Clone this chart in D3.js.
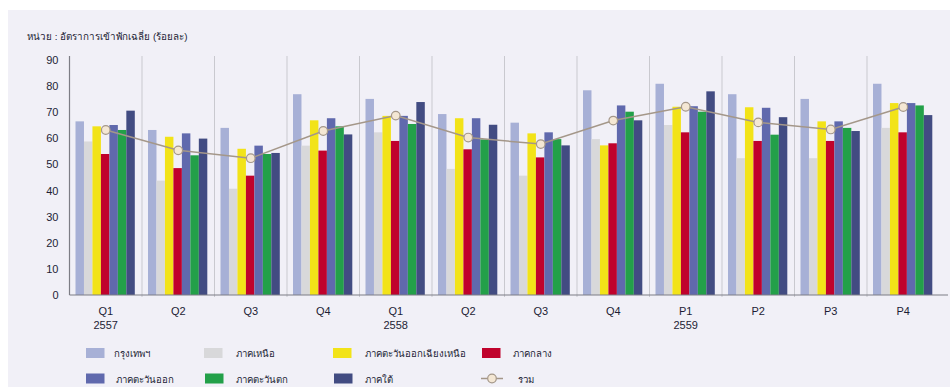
<!DOCTYPE html>
<html>
<head>
<meta charset="utf-8">
<script src="https://cdn.jsdelivr.net/npm/d3@7/dist/d3.min.js"></script>
<style>
  html, body { margin: 0; padding: 0; background: #ffffff; }
  svg { display: block; }
  text { font-family: "Liberation Sans", "DejaVu Sans", "Noto Sans", sans-serif; }
</style>
</head>
<body>
<svg id="chart" width="950" height="387"></svg>
<script>
// Quarter / period labels along the x axis, with the year shown under the first of each year
const periods = ["Q1", "Q2", "Q3", "Q4", "Q1", "Q2", "Q3", "Q4", "P1", "P2", "P3", "P4"];
const years = ["2557", "", "", "", "2558", "", "", "", "2559", "", "", ""];

// Average hotel occupancy rate by region (percent)
const seriesNames = ["กรุงเทพฯ", "ภาคเหนือ", "ภาคตะวันออกเฉียงเหนือ", "ภาคกลาง", "ภาคตะวันออก", "ภาคตะวันตก", "ภาคใต้"];
const seriesColors = ["#a7b0d6", "#d8d8da", "#f2e318", "#c0022c", "#6069ad", "#23a049", "#424c82"];

const bangkok   = [66.5, 63.2, 64.0, 76.9, 75.1, 69.3, 66.0, 78.4, 80.9, 76.9, 75.1, 80.9];
const north     = [58.8, 43.8, 40.7, 57.2, 62.3, 48.3, 45.7, 59.7, 65.1, 52.4, 52.4, 64.0];
const northeast = [64.6, 60.6, 56.0, 66.9, 68.6, 67.7, 61.9, 57.3, 72.1, 71.9, 66.5, 73.5];
const central   = [54.0, 48.6, 45.7, 55.3, 59.0, 55.8, 52.7, 58.1, 62.3, 59.0, 59.0, 62.3];
const east      = [65.1, 61.9, 57.2, 67.7, 68.6, 67.7, 62.3, 72.6, 72.3, 71.7, 66.5, 73.5];
const west      = [63.2, 53.5, 54.0, 64.6, 65.5, 59.6, 59.7, 70.2, 70.2, 61.4, 64.0, 72.6];
const south     = [70.6, 59.9, 54.4, 61.5, 73.9, 65.2, 57.3, 66.9, 78.0, 68.1, 62.8, 68.9];
const total     = [63.2, 55.4, 52.4, 62.8, 68.7, 60.3, 57.8, 66.8, 72.1, 66.1, 63.4, 72.0];

const yTicks = [0, 10, 20, 30, 40, 50, 60, 70, 80, 90];

const seriesValues = [bangkok, north, northeast, central, east, west, south];

const svg = d3.select("#chart");

// Light panel behind the whole figure
svg.append("rect")
  .attr("x", 8).attr("y", 10).attr("width", 942).attr("height", 377)
  .attr("fill", "#f1f0f7");

const plotLeft = 69.5, plotRight = 939.5, plotTop = 60, plotBottom = 295;

const x0 = d3.scaleBand()
  .domain(d3.range(periods.length))
  .range([plotLeft, plotRight])
  .paddingInner(0).paddingOuter(0);

const x1 = d3.scaleBand()
  .domain(d3.range(seriesNames.length))
  .range([6, 65.3])
  .padding(0);

const y = d3.scaleLinear().domain([0, 90]).range([plotBottom, plotTop]);

// Title / unit
svg.append("text")
  .attr("x", 27).attr("y", 40)
  .attr("font-size", 9.8).attr("fill", "#1d1d35")
  .text("หน่วย : อัตราการเข้าพักเฉลี่ย (ร้อยละ)");

// Group separators
svg.append("g").selectAll("line")
  .data(d3.range(1, periods.length))
  .join("line")
  .attr("x1", d => x0(d)).attr("x2", d => x0(d))
  .attr("y1", 56).attr("y2", plotBottom + 2)
  .attr("stroke", "#c9c9cf").attr("stroke-width", 1);

// Bars
const groups = svg.append("g").selectAll("g")
  .data(d3.range(periods.length))
  .join("g")
  .attr("transform", i => `translate(${x0(i)},0)`);

groups.selectAll("rect")
  .data(i => seriesValues.map((vals, s) => ({ s, v: vals[i] })))
  .join("rect")
  .attr("x", d => x1(d.s))
  .attr("width", x1.bandwidth())
  .attr("y", d => y(d.v))
  .attr("height", d => y(0) - y(d.v))
  .attr("fill", d => seriesColors[d.s]);

// Y axis
const yAxis = d3.axisLeft(y).tickValues(yTicks).tickSize(0).tickPadding(11);
const gy = svg.append("g").attr("transform", `translate(${plotLeft},0)`).call(yAxis);
gy.select(".domain").remove();
gy.selectAll("text").attr("font-size", 11).attr("fill", "#1d1d35");
svg.append("line")
  .attr("x1", plotLeft).attr("x2", plotLeft)
  .attr("y1", 56).attr("y2", plotBottom)
  .attr("stroke", "#7d7d85").attr("stroke-width", 1.2);

// X axis
svg.append("line")
  .attr("x1", plotLeft).attr("x2", 948)
  .attr("y1", plotBottom).attr("y2", plotBottom)
  .attr("stroke", "#7d7d85").attr("stroke-width", 1.2);

const xl = svg.append("g");
xl.selectAll("text.q")
  .data(d3.range(periods.length))
  .join("text")
  .attr("class", "q")
  .attr("x", i => x0(i) + x0.bandwidth() / 2)
  .attr("y", 315)
  .attr("text-anchor", "middle")
  .attr("font-size", 11).attr("fill", "#1d1d35")
  .text(i => periods[i]);
xl.selectAll("text.yr")
  .data(d3.range(periods.length).filter(i => years[i]))
  .join("text")
  .attr("class", "yr")
  .attr("x", i => x0(i) + x0.bandwidth() / 2)
  .attr("y", 329)
  .attr("text-anchor", "middle")
  .attr("font-size", 11).attr("fill", "#1d1d35")
  .text(i => years[i]);

// Total line with markers
const line = d3.line()
  .x((d, i) => x0(i) + x0.bandwidth() / 2)
  .y(d => y(d));
svg.append("path")
  .datum(total)
  .attr("d", line)
  .attr("fill", "none")
  .attr("stroke", "#a49789").attr("stroke-width", 1.5);
svg.append("g").selectAll("circle")
  .data(total)
  .join("circle")
  .attr("cx", (d, i) => x0(i) + x0.bandwidth() / 2)
  .attr("cy", d => y(d))
  .attr("r", 4.3)
  .attr("fill", "#f4e7d4")
  .attr("stroke", "#a49789").attr("stroke-width", 1.2);

// Legend
const legendItems = [
  { name: seriesNames[0], color: seriesColors[0], sx: 86,  tx: 114, row: 0 },
  { name: seriesNames[1], color: seriesColors[1], sx: 204, tx: 236, row: 0 },
  { name: seriesNames[2], color: seriesColors[2], sx: 333, tx: 365, row: 0 },
  { name: seriesNames[3], color: seriesColors[3], sx: 482, tx: 513, row: 0 },
  { name: seriesNames[4], color: seriesColors[4], sx: 86,  tx: 116, row: 1 },
  { name: seriesNames[5], color: seriesColors[5], sx: 205, tx: 236, row: 1 },
  { name: seriesNames[6], color: seriesColors[6], sx: 334, tx: 365, row: 1 }
];
const rowY = [353, 378.5];
const lg = svg.append("g");
lg.selectAll("rect")
  .data(legendItems)
  .join("rect")
  .attr("x", d => d.sx).attr("y", d => rowY[d.row] - 5)
  .attr("width", 18.5).attr("height", 10)
  .attr("fill", d => d.color);
lg.selectAll("text")
  .data(legendItems)
  .join("text")
  .attr("x", d => d.tx).attr("y", d => rowY[d.row] + 4)
  .attr("font-size", 9.6).attr("fill", "#1d1d35")
  .text(d => d.name);
lg.append("line")
  .attr("x1", 481).attr("x2", 503)
  .attr("y1", rowY[1]).attr("y2", rowY[1])
  .attr("stroke", "#a49789").attr("stroke-width", 1.5);
lg.append("circle")
  .attr("cx", 492).attr("cy", rowY[1]).attr("r", 4.3)
  .attr("fill", "#f4e7d4").attr("stroke", "#a49789").attr("stroke-width", 1.2);
lg.append("text")
  .attr("x", 518).attr("y", rowY[1] + 4)
  .attr("font-size", 9.6).attr("fill", "#1d1d35")
  .text("รวม");
</script>
</body>
</html>
